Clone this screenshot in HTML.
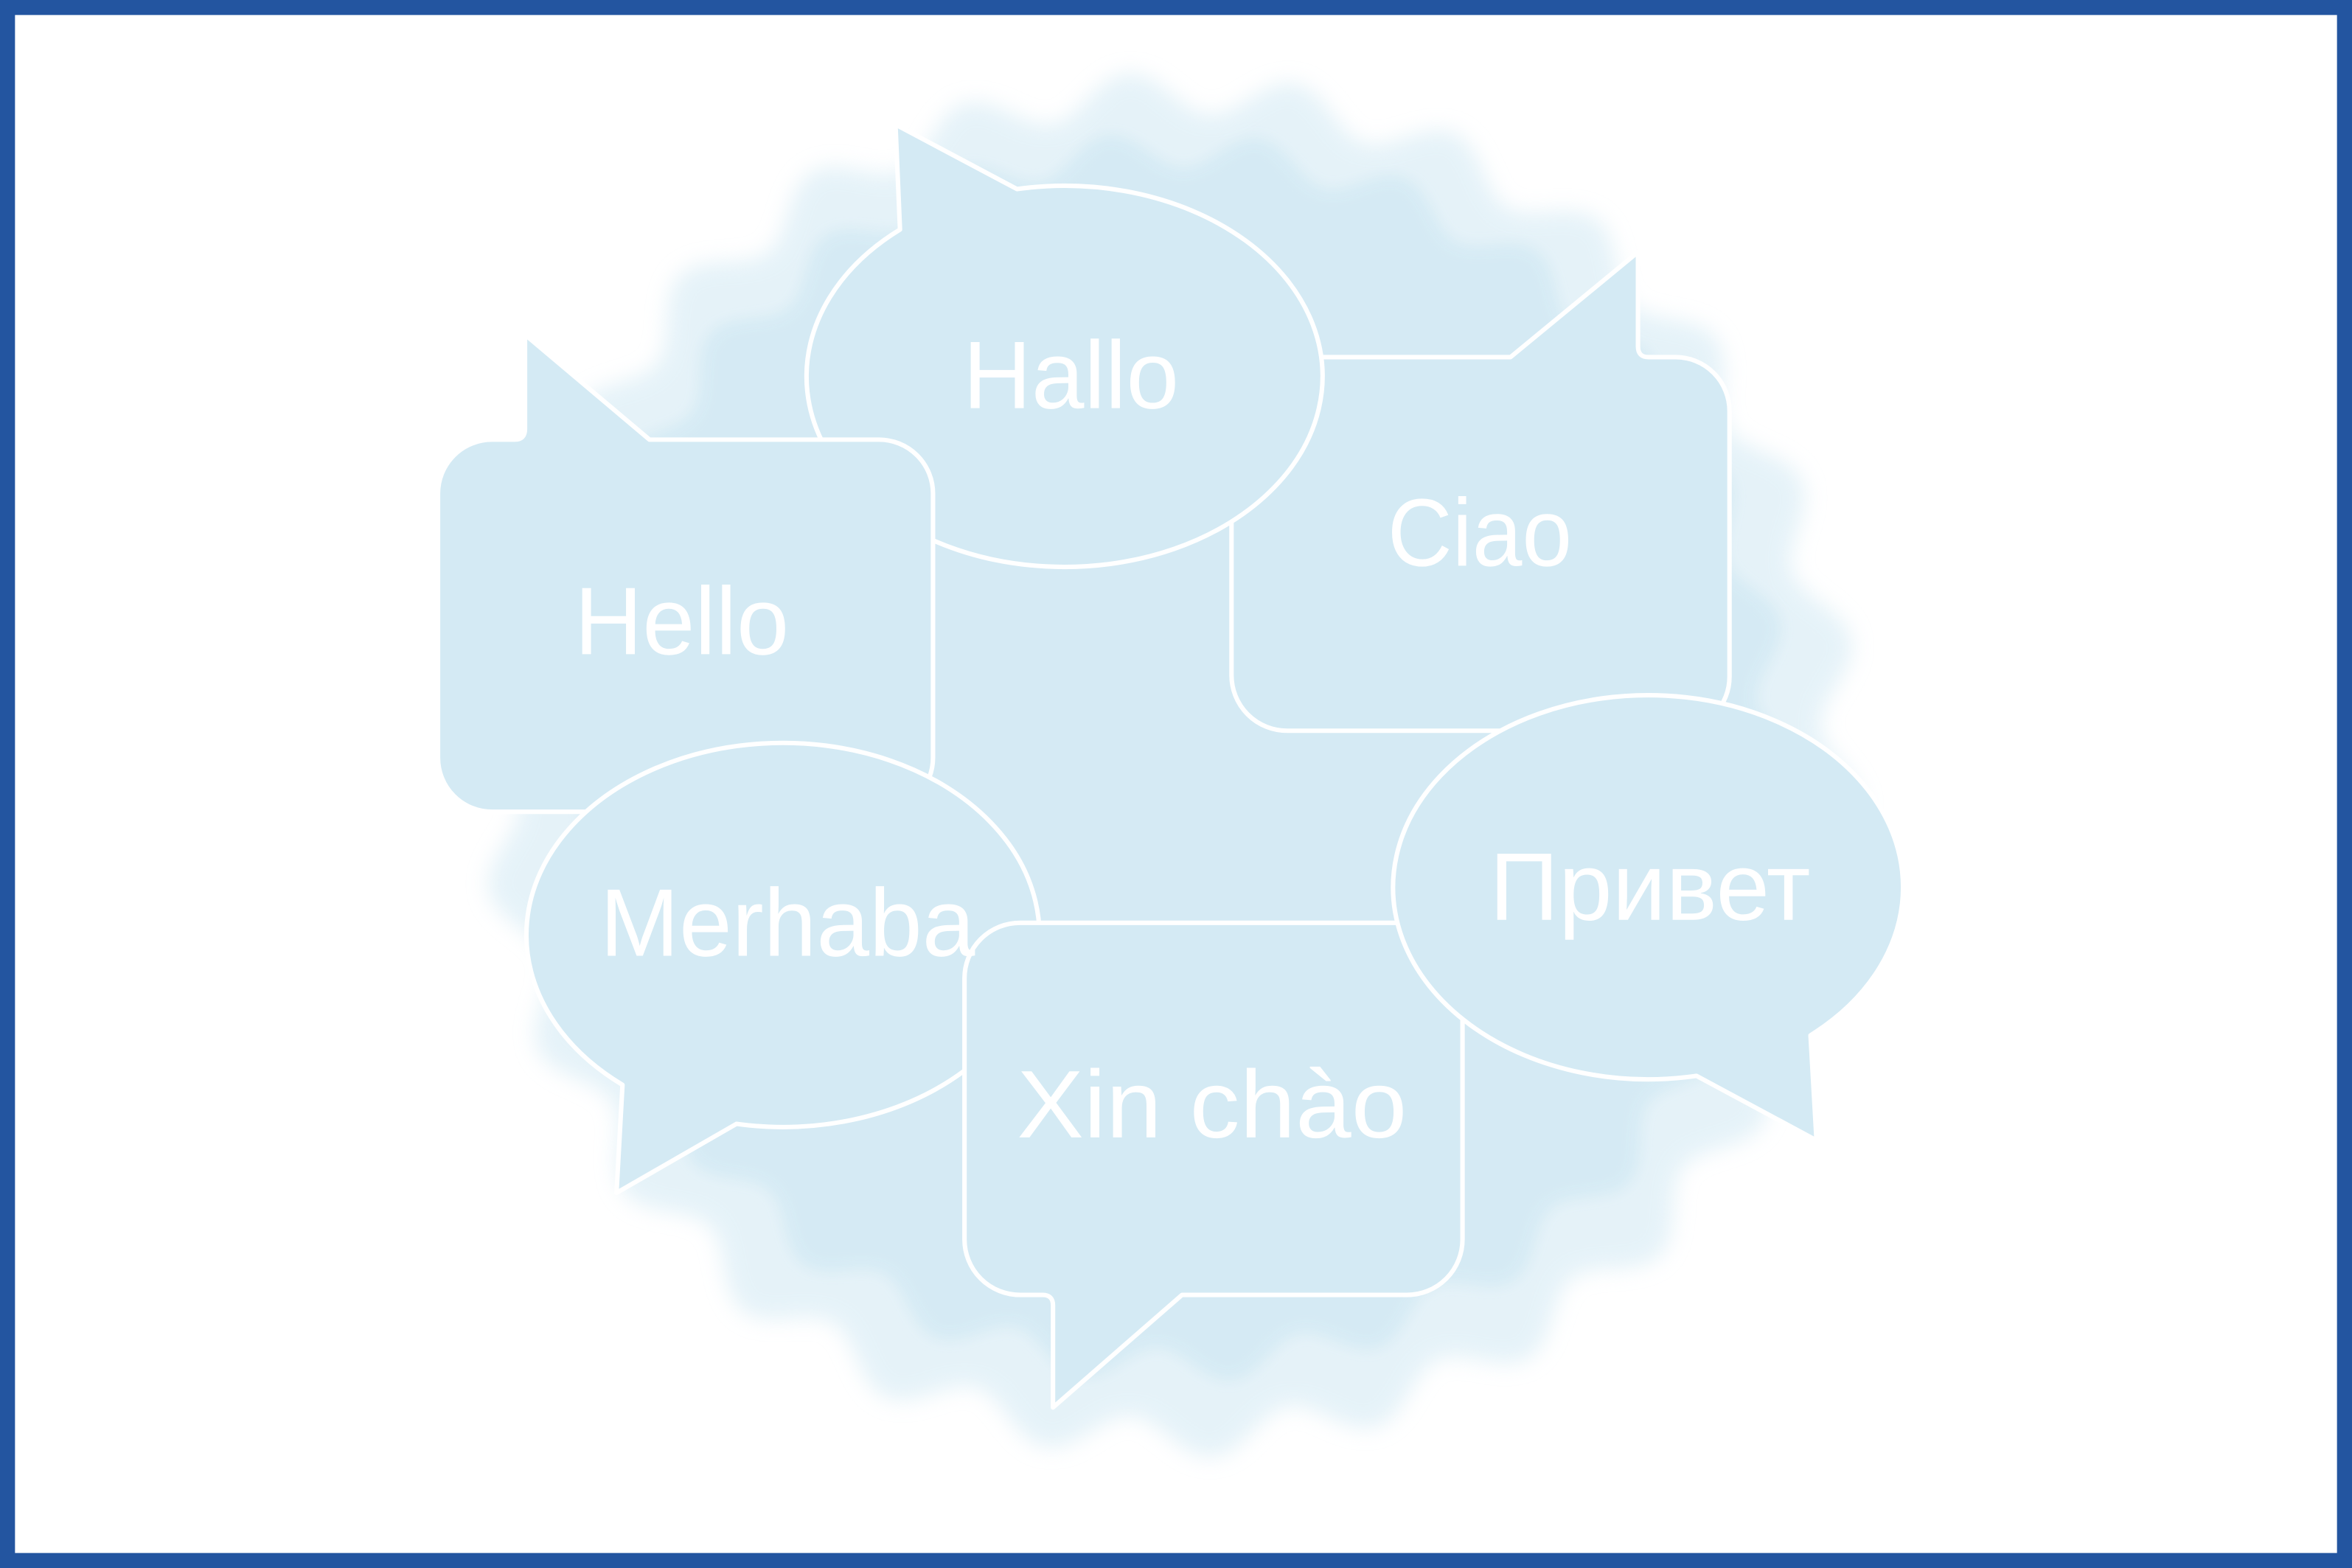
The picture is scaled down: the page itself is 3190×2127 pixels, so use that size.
<!DOCTYPE html>
<html><head><meta charset="utf-8"><style>
html,body{margin:0;padding:0;background:#fff;}
svg{display:block;}
text{font-family:"Liberation Sans",sans-serif;fill:#fff;font-size:64px;}
</style></head><body>
<svg id="s" width="3190" height="2127" viewBox="0 0 1568 1045" preserveAspectRatio="none" xmlns="http://www.w3.org/2000/svg">
<defs>
<filter id="b1" x="-20%" y="-20%" width="140%" height="140%"><feGaussianBlur stdDeviation="7"/></filter>
<filter id="b2" x="-20%" y="-20%" width="140%" height="140%"><feGaussianBlur stdDeviation="5"/></filter>
</defs>
<rect x="0" y="0" width="1568" height="1045" fill="#fff"/>
<path id="blob1" fill="#d4eaf4" opacity="0.6" filter="url(#b1)"/>
<path id="blob2" fill="#d4eaf4" opacity="0.9" filter="url(#b2)"/>
<g fill="#d4eaf4" stroke="#fff" stroke-width="3" stroke-linejoin="round">
<path d="M 858,238 H 1007 L 1092,168 V 231 Q1092,238 1099,238 H 1117 A36 36 0 0 1 1153,274 V 451 A36 36 0 0 1 1117,487 H 858 A37 37 0 0 1 821,450 V 275 A37 37 0 0 1 858,238 Z"/>
<path d="M 678,126 A172 127 0 1 1 600,153 L 597,83 Z"/>
<path d="M 328,293 H 343 Q 350,293 350,286 V 223 L 433,293 H 586 A36 36 0 0 1 622,329 V 505 A36 36 0 0 1 586,541 H 328 A36 36 0 0 1 292,505 V 329 A36 36 0 0 1 328,293 Z"/>
<path d="M 491,749 A171 128 0 1 0 415,723 L 411,795 Z"/>
<path d="M 680,615 H 938 A37 37 0 0 1 975,652 V 826 A37 37 0 0 1 938,863 H 788 L 702,938 V 870 Q702,863 695,863 H 680 A37 37 0 0 1 643,826 V 652 A37 37 0 0 1 680,615 Z"/>
<path d="M 1131,717 A170 128 0 1 1 1207,690 L 1211,760 Z"/>
</g>
<text x="642" y="272" textLength="144" lengthAdjust="spacingAndGlyphs">Hallo</text>
<text x="383" y="436" textLength="143" lengthAdjust="spacingAndGlyphs">Hello</text>
<text x="925" y="377" textLength="123" lengthAdjust="spacingAndGlyphs">Ciao</text>
<text x="400" y="637" textLength="250" lengthAdjust="spacingAndGlyphs">Merhaba</text>
<text x="678" y="758" textLength="260" lengthAdjust="spacingAndGlyphs">Xin chào</text>
<text x="993" y="613" textLength="214" lengthAdjust="spacingAndGlyphs">Привет</text>
<rect x="5" y="5" width="1558" height="1035" fill="none" stroke="#2355a0" stroke-width="10"/>
</svg>
<script>
function blob(r,a,n,cx,cy,ph){let d="";for(let i=0;i<=360;i++){const t=i/360*2*Math.PI;const rr=r+a*Math.sin(n*t+ph);const x=cx+rr*Math.cos(t),y=cy+rr*Math.sin(t);d+=(i?"L":"M")+x.toFixed(1)+","+y.toFixed(1);}return d+"Z";}
document.getElementById("blob1").setAttribute("d",blob(448,14,26,780,510,0));
document.getElementById("blob2").setAttribute("d",blob(405,12,26,780,505,1));
</script>
</body></html>
